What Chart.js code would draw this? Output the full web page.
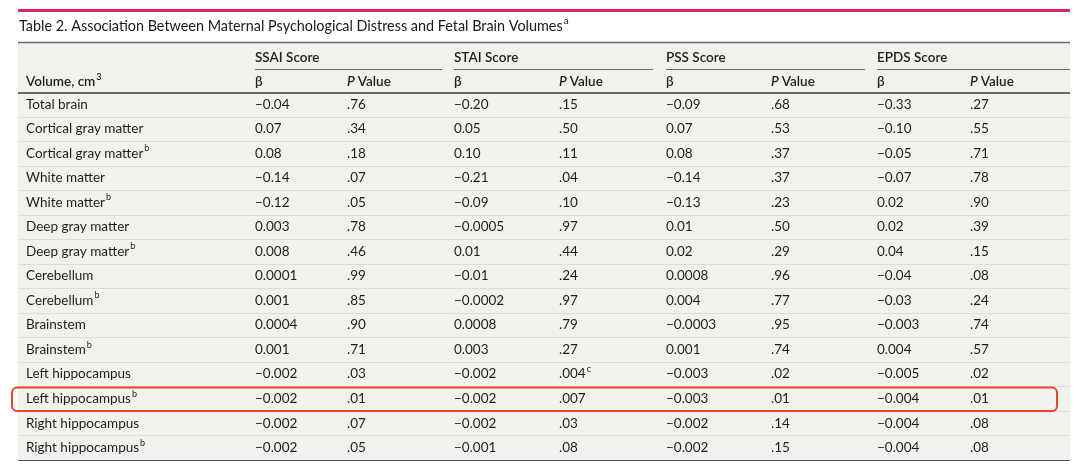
<!DOCTYPE html>
<html>
<head>
<meta charset="utf-8">
<script src="https://cdn.jsdelivr.net/npm/chart.js@4.4.1/dist/chart.umd.min.js"></script>
<style>
  html, body { margin: 0; padding: 0; background: #fff; }
  #wrap { width: 1080px; height: 467px; position: relative; }
</style>
</head>
<body>
<div id="wrap"><canvas id="table-chart"></canvas></div>
<script>
(function () {
  "use strict";

  // 표 데이터
  const title = "Table 2. Association Between Maternal Psychological Distress and Fetal Brain Volumes";
  const groups = ["SSAI Score", "STAI Score", "PSS Score", "EPDS Score"];

  const volumes = [
    "Total brain", "Cortical gray matter", "Cortical gray matter", "White matter",
    "White matter", "Deep gray matter", "Deep gray matter", "Cerebellum",
    "Cerebellum", "Brainstem", "Brainstem", "Left hippocampus",
    "Left hippocampus", "Right hippocampus", "Right hippocampus",
  ];
  const volumeNotes = ["", "", "b", "", "b", "", "b", "", "b", "", "b", "", "b", "", "b"];

  const ssaiBeta = ["−0.04", "0.07", "0.08", "−0.14", "−0.12", "0.003", "0.008", "0.0001", "0.001", "0.0004", "0.001", "−0.002", "−0.002", "−0.002", "−0.002"];
  const ssaiP = [".76", ".34", ".18", ".07", ".05", ".78", ".46", ".99", ".85", ".90", ".71", ".03", ".01", ".07", ".05"];
  const staiBeta = ["−0.20", "0.05", "0.10", "−0.21", "−0.09", "−0.0005", "0.01", "−0.01", "−0.0002", "0.0008", "0.003", "−0.002", "−0.002", "−0.002", "−0.001"];
  const staiP = [".15", ".50", ".11", ".04", ".10", ".97", ".44", ".24", ".97", ".79", ".27", ".004", ".007", ".03", ".08"];
  const staiPNotes = ["", "", "", "", "", "", "", "", "", "", "", "c", "", "", ""];
  const pssBeta = ["−0.09", "0.07", "0.08", "−0.14", "−0.13", "0.01", "0.02", "0.0008", "0.004", "−0.0003", "0.001", "−0.003", "−0.003", "−0.002", "−0.002"];
  const pssP = [".68", ".53", ".37", ".37", ".23", ".50", ".29", ".96", ".77", ".95", ".74", ".02", ".01", ".14", ".15"];
  const epdsBeta = ["−0.33", "−0.10", "−0.05", "−0.07", "0.02", "0.02", "0.04", "−0.04", "−0.03", "−0.003", "0.004", "−0.005", "−0.004", "−0.004", "−0.004"];
  const epdsP = [".27", ".55", ".71", ".78", ".90", ".39", ".15", ".08", ".24", ".74", ".57", ".02", ".01", ".08", ".08"];

  const highlightRow = 12;

  // 레이아웃 (px)
  const colX = [26, 255, 347, 454, 559, 666, 771, 877, 970];
  const groupX = [[255, 442], [454, 653], [666, 865], [877, 1070]];
  const tableLeft = 18;
  const tableRight = 1070;

  const FONT = "Lato, 'Open Sans', sans-serif";
  const TEXT = "#1e1e1e";
  const SIZE = 13.5;

  const columns = [
    { cells: volumes, notes: volumeNotes },
    { cells: ssaiBeta }, { cells: ssaiP },
    { cells: staiBeta }, { cells: staiP, notes: staiPNotes },
    { cells: pssBeta }, { cells: pssP },
    { cells: epdsBeta }, { cells: epdsP },
  ];

  function drawWithSup(ctx, text, sup, x, y, size, weight) {
    ctx.font = `${weight} ${size}px ${FONT}`;
    ctx.fillText(text, x, y);
    if (sup) {
      const w = ctx.measureText(text).width;
      ctx.font = `${weight} ${Math.round(size * 0.68)}px ${FONT}`;
      ctx.fillText(sup, x + w + 1, y - 5);
    }
  }

  const backgroundPlugin = {
    id: "tableBackground",
    beforeDraw(chart) {
      const { ctx, scales } = chart;
      const y = scales.y;
      ctx.save();
      ctx.fillStyle = "#fff";
      ctx.fillRect(0, 0, chart.width, chart.height);
      const bottom = y.getPixelForValue(volumes.length - 0.5);
      ctx.fillStyle = "#f2f1ed";
      ctx.fillRect(tableLeft, 43, tableRight - tableLeft, bottom - 43);

      // 행 구분선
      ctx.strokeStyle = "#dfddd7";
      ctx.lineWidth = 1;
      for (let i = 0; i < volumes.length - 1; i++) {
        const py = Math.round(y.getPixelForValue(i + 0.5)) + 0.5;
        ctx.beginPath();
        ctx.moveTo(tableLeft, py);
        ctx.lineTo(tableRight, py);
        ctx.stroke();
      }
      ctx.restore();
    },
  };

  const tablePlugin = {
    id: "tableText",
    afterDatasetsDraw(chart) {
      const { ctx, scales } = chart;
      const x = scales.x;
      const y = scales.y;
      ctx.save();

      // 상단 분홍색 선
      ctx.fillStyle = "#d6246e";
      ctx.fillRect(tableLeft, 9, tableRight - tableLeft, 3);

      // 제목
      ctx.fillStyle = "#1a1a1a";
      ctx.textBaseline = "middle";
      ctx.textAlign = "left";
      drawWithSup(ctx, title, "a", 19, 26, 14.4, 400);

      ctx.strokeStyle = "#6a6a6a";
      ctx.lineWidth = 1.5;
      ctx.beginPath();
      ctx.moveTo(tableLeft, 42.5);
      ctx.lineTo(tableRight, 42.5);
      ctx.stroke();

      // 그룹 헤더
      ctx.fillStyle = TEXT;
      groups.forEach((g, gi) => {
        const [x0, x1] = groupX[gi];
        ctx.font = `600 ${SIZE}px ${FONT}`;
        ctx.fillText(g, x.getPixelForValue(x0), 58);
        ctx.strokeStyle = "#6a6a6a";
        ctx.lineWidth = 1;
        ctx.beginPath();
        ctx.moveTo(x.getPixelForValue(x0), 69.5);
        ctx.lineTo(x.getPixelForValue(x1), 69.5);
        ctx.stroke();
      });

      // 하위 헤더
      drawWithSup(ctx, "Volume, cm", "3", x.getPixelForValue(colX[0]), 82, SIZE, 600);
      for (let c = 1; c < colX.length; c++) {
        const px = x.getPixelForValue(colX[c]);
        if (c % 2 === 1) {
          ctx.font = `600 ${SIZE}px ${FONT}`;
          ctx.fillText("β", px, 82);
        } else {
          ctx.font = `italic 600 ${SIZE}px ${FONT}`;
          ctx.fillText("P", px, 82);
          const w = ctx.measureText("P ").width;
          ctx.font = `600 ${SIZE}px ${FONT}`;
          ctx.fillText("Value", px + w, 82);
        }
      }

      ctx.strokeStyle = "#3a3a3a";
      ctx.lineWidth = 1.5;
      ctx.beginPath();
      ctx.moveTo(tableLeft, 93);
      ctx.lineTo(tableRight, 93);
      ctx.stroke();

      // 셀 텍스트
      ctx.fillStyle = TEXT;
      chart.data.datasets.forEach((ds, d) => {
        const meta = chart.getDatasetMeta(d);
        meta.data.forEach((pt, i) => {
          const note = ds.notes ? ds.notes[i] : "";
          drawWithSup(ctx, ds.cells[i], note, pt.x, pt.y, SIZE, 400);
        });
      });

      // 하단 선
      const bottom = Math.round(y.getPixelForValue(volumes.length - 0.5)) + 0.5;
      ctx.strokeStyle = "#555";
      ctx.lineWidth = 1;
      ctx.beginPath();
      ctx.moveTo(tableLeft, bottom);
      ctx.lineTo(tableRight, bottom);
      ctx.stroke();

      // 강조 상자
      const top = y.getPixelForValue(highlightRow - 0.5);
      const bot = y.getPixelForValue(highlightRow + 0.5);
      ctx.strokeStyle = "#e2462c";
      ctx.lineWidth = 2;
      ctx.beginPath();
      ctx.roundRect(12, top + 1, 1057 - 12, bot - top - 1, 5);
      ctx.stroke();

      ctx.restore();
    },
  };

  const datasets = columns.map((col, c) => ({
    label: `col${c}`,
    cells: col.cells,
    notes: col.notes,
    data: col.cells.map((_, i) => ({ x: colX[c], y: i })),
    pointRadius: 0,
    pointHoverRadius: 0,
  }));

  new Chart(document.getElementById("table-chart"), {
    type: "scatter",
    data: { datasets },
    options: {
      responsive: true,
      maintainAspectRatio: false,
      animation: false,
      events: [],
      layout: { padding: { top: 92, bottom: 7, left: 0, right: 0 } },
      plugins: {
        legend: { display: false },
        tooltip: { enabled: false },
      },
      scales: {
        x: { type: "linear", min: 0, max: 1080, display: false },
        y: { type: "linear", min: -0.5, max: volumes.length - 0.5, reverse: true, display: false },
      },
    },
    plugins: [backgroundPlugin, tablePlugin],
  });
})();
</script>
</body>
</html>
